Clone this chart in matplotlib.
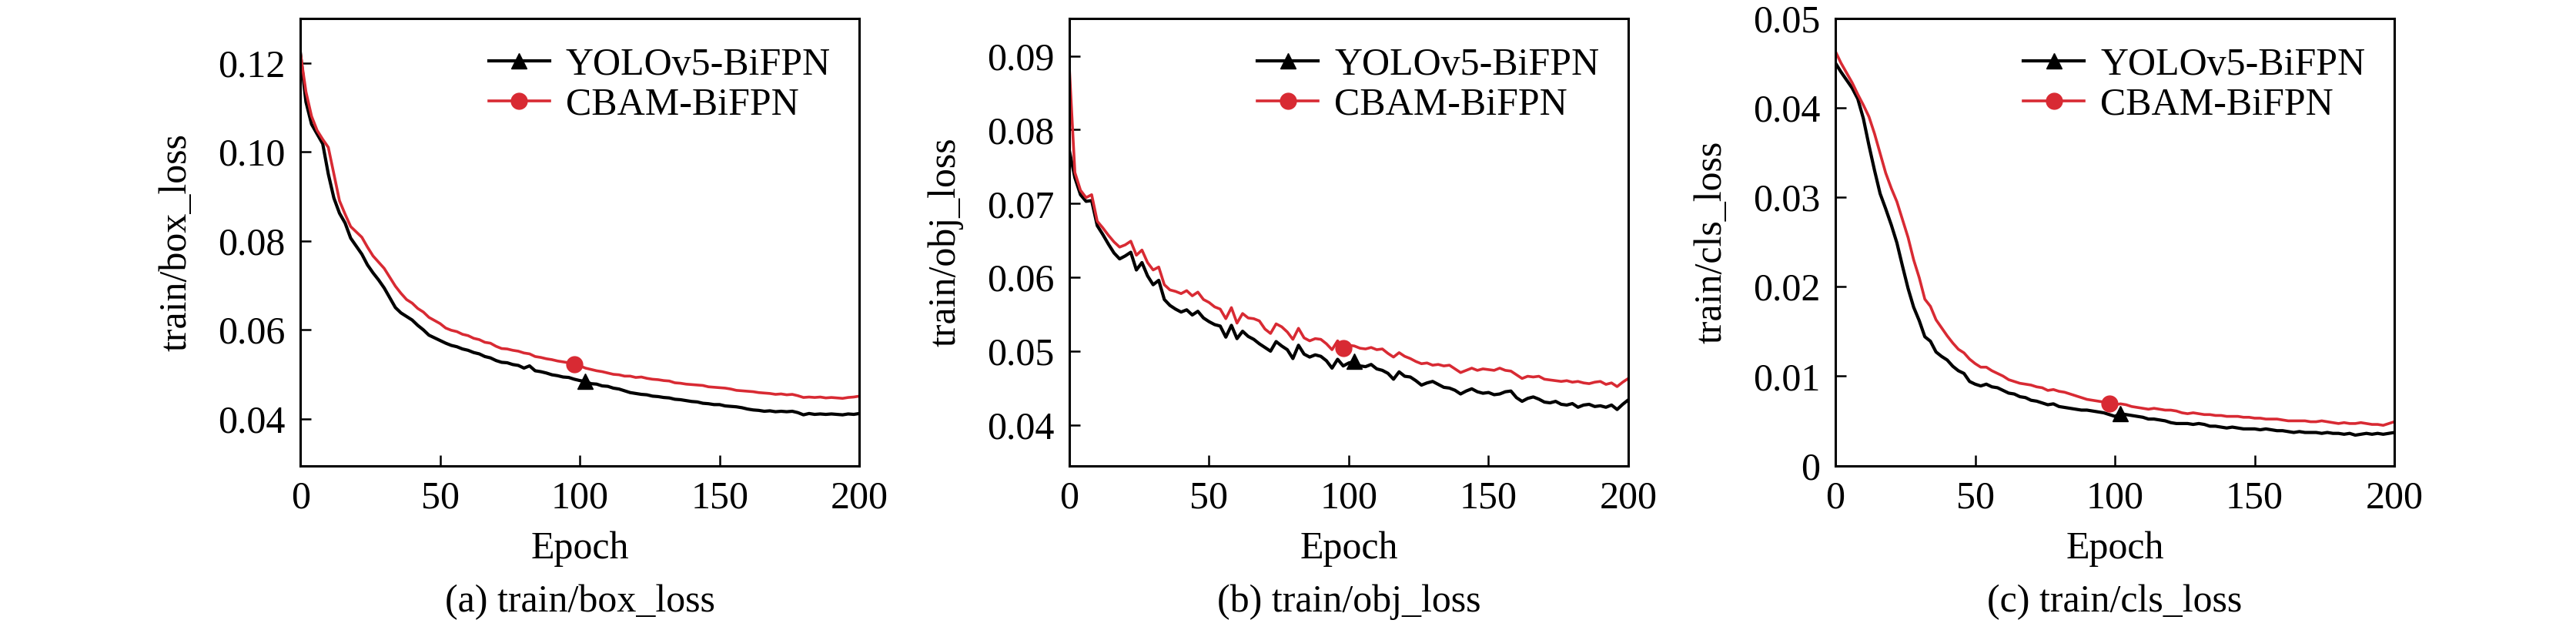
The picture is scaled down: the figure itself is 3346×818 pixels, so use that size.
import matplotlib
matplotlib.use("Agg")
import matplotlib.pyplot as plt

plt.rcParams['font.family'] = ['Liberation Serif', 'DejaVu Serif']
plt.rcParams['font.size'] = 36

epochs = list(range(0, 201, 2))

box_yolo = [0.1222, 0.1112, 0.1062, 0.1040, 0.1018, 0.0950, 0.0896, 0.0862, 0.0840, 0.0806,
            0.0788, 0.0770, 0.0746, 0.0728, 0.0712, 0.0694, 0.0672, 0.0650, 0.0638, 0.0630,
            0.0622, 0.0610, 0.0600, 0.0588, 0.0582, 0.0576, 0.0570, 0.0565, 0.0562, 0.0557,
            0.0554, 0.0549, 0.0546, 0.0540, 0.0537, 0.0531, 0.0527, 0.0526, 0.0522, 0.0520,
            0.0514, 0.0519, 0.0508, 0.0506, 0.0503, 0.0499, 0.0497, 0.0494, 0.0493, 0.0489,
            0.0486, 0.0484, 0.0479, 0.0478, 0.0474, 0.0473, 0.0469, 0.0467, 0.0463, 0.0459,
            0.0457, 0.0455, 0.0454, 0.0451, 0.0450, 0.0448, 0.0447, 0.0444, 0.0443, 0.0441,
            0.0439, 0.0438, 0.0435, 0.0434, 0.0432, 0.0432, 0.0429, 0.0428, 0.0427, 0.0425,
            0.0422, 0.0420, 0.0419, 0.0417, 0.0418, 0.0416, 0.0417, 0.0416, 0.0417, 0.0414,
            0.0409, 0.0412, 0.0410, 0.0411, 0.0410, 0.0411, 0.0410, 0.0409, 0.0411, 0.0410,
            0.0412]
box_cbam = [0.1222, 0.1135, 0.1080, 0.1048, 0.1028, 0.1010, 0.0950, 0.0890, 0.0860, 0.0832,
            0.0820, 0.0808, 0.0786, 0.0766, 0.0752, 0.0738, 0.0718, 0.0698, 0.0682, 0.0668,
            0.0660, 0.0648, 0.0640, 0.0628, 0.0621, 0.0614, 0.0604, 0.0599, 0.0596, 0.0590,
            0.0587, 0.0581, 0.0578, 0.0572, 0.0570, 0.0563, 0.0558, 0.0557, 0.0554, 0.0552,
            0.0548, 0.0546, 0.0540, 0.0538, 0.0535, 0.0533, 0.0530, 0.0528, 0.0526, 0.0522,
            0.0519, 0.0514, 0.0511, 0.0508, 0.0506, 0.0503, 0.0500, 0.0499, 0.0496, 0.0496,
            0.0493, 0.0494, 0.0491, 0.0489, 0.0488, 0.0486, 0.0485, 0.0481, 0.0480, 0.0478,
            0.0477, 0.0476, 0.0475, 0.0472, 0.0471, 0.0470, 0.0469, 0.0467, 0.0464, 0.0463,
            0.0462, 0.0461, 0.0459, 0.0458, 0.0457, 0.0455, 0.0456, 0.0454, 0.0455, 0.0452,
            0.0448, 0.0449, 0.0448, 0.0449, 0.0447, 0.0448, 0.0447, 0.0446, 0.0448, 0.0449,
            0.0451]

obj_yolo = [0.0772, 0.0735, 0.0712, 0.0703, 0.0704, 0.0670, 0.0658, 0.0645, 0.0633, 0.0625,
            0.0629, 0.0634, 0.0610, 0.0620, 0.0602, 0.0590, 0.0596, 0.0570, 0.0562, 0.0557,
            0.0553, 0.0556, 0.0549, 0.0554, 0.0545, 0.0540, 0.0536, 0.0534, 0.0519, 0.0535,
            0.0517, 0.0527, 0.0520, 0.0516, 0.0510, 0.0505, 0.0500, 0.0513, 0.0507, 0.0502,
            0.0490, 0.0508, 0.0496, 0.0492, 0.0495, 0.0493, 0.0487, 0.0477, 0.0489, 0.0480,
            0.0484, 0.0486, 0.0480, 0.0479, 0.0482, 0.0476, 0.0474, 0.0470, 0.0462, 0.0472,
            0.0466, 0.0465, 0.0460, 0.0454, 0.0457, 0.0459, 0.0455, 0.0451, 0.0450, 0.0447,
            0.0442, 0.0446, 0.0449, 0.0445, 0.0443, 0.0444, 0.0441, 0.0442, 0.0445, 0.0446,
            0.0437, 0.0432, 0.0436, 0.0438, 0.0435, 0.0431, 0.0430, 0.0432, 0.0428, 0.0427,
            0.0429, 0.0424, 0.0427, 0.0428, 0.0425, 0.0426, 0.0424, 0.0427, 0.0421, 0.0428,
            0.0434]
obj_cbam = [0.0885, 0.0742, 0.0718, 0.0708, 0.0712, 0.0676, 0.0667, 0.0657, 0.0648, 0.0641,
            0.0644, 0.0649, 0.0630, 0.0637, 0.0620, 0.0610, 0.0614, 0.0590, 0.0583, 0.0581,
            0.0578, 0.0582, 0.0575, 0.0580, 0.0570, 0.0566, 0.0560, 0.0557, 0.0544, 0.0559,
            0.0538, 0.0551, 0.0545, 0.0544, 0.0541, 0.0530, 0.0524, 0.0537, 0.0533, 0.0526,
            0.0516, 0.0531, 0.0518, 0.0514, 0.0517, 0.0516, 0.0510, 0.0502, 0.0514, 0.0504,
            0.0508, 0.0507, 0.0504, 0.0503, 0.0505, 0.0502, 0.0503, 0.0497, 0.0492, 0.0498,
            0.0493, 0.0490, 0.0486, 0.0483, 0.0484, 0.0481, 0.0482, 0.0480, 0.0481, 0.0476,
            0.0471, 0.0474, 0.0477, 0.0474, 0.0476, 0.0475, 0.0474, 0.0477, 0.0474, 0.0473,
            0.0468, 0.0463, 0.0466, 0.0465, 0.0466, 0.0462, 0.0461, 0.0460, 0.0459, 0.0460,
            0.0458, 0.0459, 0.0457, 0.0456, 0.0458, 0.0459, 0.0455, 0.0457, 0.0452, 0.0458,
            0.0463]

cls_yolo = [0.0450, 0.0440, 0.0431, 0.0422, 0.0410, 0.0388, 0.0358, 0.0330, 0.0304, 0.0287,
            0.0269, 0.0249, 0.0223, 0.0198, 0.0177, 0.0162, 0.0144, 0.0139, 0.0127, 0.0122,
            0.0118, 0.0111, 0.0106, 0.0103, 0.0094, 0.0091, 0.0089, 0.0091, 0.0088, 0.0087,
            0.0084, 0.0081, 0.0080, 0.0077, 0.0076, 0.0073, 0.0072, 0.0070, 0.0068, 0.0069,
            0.0066, 0.0065, 0.0064, 0.0063, 0.0062, 0.0062, 0.0061, 0.0060, 0.0059, 0.0057,
            0.0055, 0.0058, 0.0057, 0.0056, 0.0055, 0.0054, 0.0052, 0.0052, 0.0051, 0.0050,
            0.0048, 0.0047, 0.0047, 0.0047, 0.0046, 0.0047, 0.0046, 0.0044, 0.0044, 0.0043,
            0.0042, 0.0043, 0.0042, 0.0041, 0.0041, 0.0041, 0.0040, 0.0041, 0.0040, 0.0039,
            0.0039, 0.0038, 0.0037, 0.0038, 0.0037, 0.0037, 0.0037, 0.0036, 0.0037, 0.0036,
            0.0036, 0.0035, 0.0036, 0.0034, 0.0035, 0.0036, 0.0035, 0.0036, 0.0035, 0.0036,
            0.0037]
cls_cbam = [0.0463, 0.0450, 0.0439, 0.0428, 0.0415, 0.0403, 0.0390, 0.0371, 0.0349, 0.0327,
            0.0310, 0.0295, 0.0275, 0.0255, 0.0230, 0.0210, 0.0186, 0.0178, 0.0163, 0.0154,
            0.0145, 0.0137, 0.0130, 0.0126, 0.0119, 0.0114, 0.0110, 0.0110, 0.0106, 0.0103,
            0.0100, 0.0096, 0.0094, 0.0092, 0.0091, 0.0090, 0.0088, 0.0087, 0.0084, 0.0085,
            0.0083, 0.0082, 0.0080, 0.0078, 0.0076, 0.0074, 0.0073, 0.0072, 0.0071, 0.0069,
            0.0068, 0.0069, 0.0068, 0.0066, 0.0065, 0.0064, 0.0063, 0.0064, 0.0063, 0.0062,
            0.0062, 0.0061, 0.0059, 0.0058, 0.0059, 0.0058, 0.0057, 0.0057, 0.0056, 0.0056,
            0.0055, 0.0055, 0.0055, 0.0054, 0.0054, 0.0053, 0.0053, 0.0052, 0.0052, 0.0052,
            0.0051, 0.0050, 0.0050, 0.0050, 0.0050, 0.0049, 0.0049, 0.0050, 0.0049, 0.0048,
            0.0047, 0.0048, 0.0047, 0.0047, 0.0048, 0.0047, 0.0046, 0.0046, 0.0045, 0.0047,
            0.0049]

series_names = ['YOLOv5-BiFPN', 'CBAM-BiFPN']
ylabels = ['train/box_loss', 'train/obj_loss', 'train/cls_loss']
captions = ['(a) train/box_loss', '(b) train/obj_loss', '(c) train/cls_loss']
yticks = [[0.04, 0.06, 0.08, 0.10, 0.12],
          [0.04, 0.05, 0.06, 0.07, 0.08, 0.09],
          [0, 0.01, 0.02, 0.03, 0.04, 0.05]]
ytick_labels = [['0.04', '0.06', '0.08', '0.10', '0.12'],
                ['0.04', '0.05', '0.06', '0.07', '0.08', '0.09'],
                ['0', '0.01', '0.02', '0.03', '0.04', '0.05']]
ylims = [(0.0295, 0.130), (0.0345, 0.0951), (0.0, 0.05)]
xticks = [0, 50, 100, 150, 200]

data = [(box_yolo, box_cbam), (obj_yolo, obj_cbam), (cls_yolo, cls_cbam)]
lefts = [0.1166, 0.4151, 0.7125]
red = '#d82a33'

fig = plt.figure(figsize=(33.46, 8.18), dpi=100)

for i in range(3):
    ax = fig.add_axes([lefts[i], 0.261, 0.217, 0.71])
    yolo, cbam = data[i]
    ax.plot(epochs, yolo, color='black', lw=3.0, marker='^', markersize=15,
            markevery=[51], label=series_names[0])
    ax.plot(epochs, cbam, color=red, lw=2.6, marker='o', markersize=15,
            markevery=[49], label=series_names[1])
    ax.set_xlim(0, 200)
    ax.set_ylim(*ylims[i])
    ax.set_xticks(xticks)
    ax.set_xticklabels([str(t) for t in xticks])
    ax.set_yticks(yticks[i])
    ax.set_yticklabels(ytick_labels[i])
    ax.tick_params(direction='in', length=10, width=1.8, pad=14,
                   top=False, right=False)
    for sp in ax.spines.values():
        sp.set_linewidth(2.2)
    ax.set_xlabel('Epoch', labelpad=14)
    ax.set_ylabel(ylabels[i], labelpad=22)
    ax.legend(loc='upper right', frameon=False, handlelength=1.58,
              handletextpad=0.42, labelspacing=0.1, borderaxespad=0.35)
    fig.text(lefts[i] + 0.217 / 2, 0.016, captions[i], ha='center', va='bottom')

fig.savefig('out.png', dpi=100)
